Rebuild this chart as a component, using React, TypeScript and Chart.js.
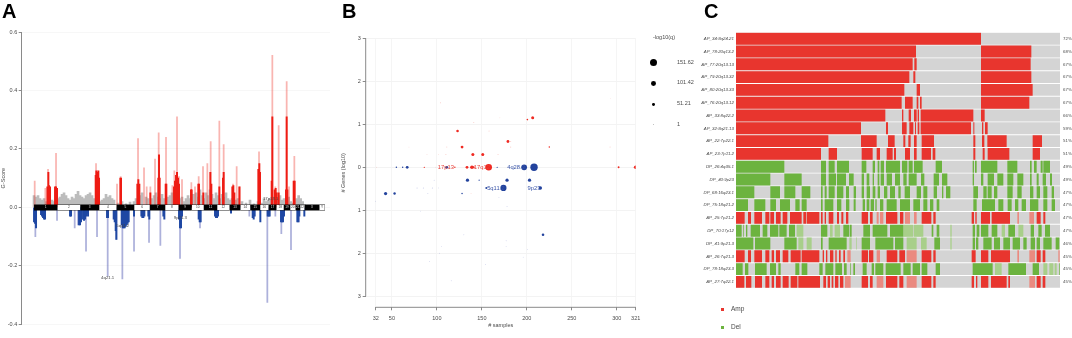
import React, { useEffect, useRef } from "react";
import { Chart, registerables } from "chart.js";

Chart.register(...registerables);

const FONT = "'Liberation Sans', Arial, sans-serif";
const TXT = "#4a4a4a";

/* ---------- Panel A: G-score along the genome (x = genome bin) ---------- */
const chromosomes: [string, number, number][] = [
  ["1", 102, 172], ["2", 172, 241], ["3", 241, 297], ["4", 297, 350], ["5", 350, 402], ["6", 402, 450],
  ["7", 450, 495], ["8", 495, 536], ["9", 536, 575], ["10", 575, 612], ["11", 612, 651], ["12", 651, 689],
  ["13", 689, 721], ["14", 721, 751], ["15", 751, 780], ["16", 780, 806], ["17", 806, 829], ["18", 829, 852],
  ["19", 852, 870], ["20", 870, 887], ["21", 887, 900], ["22", 900, 914], ["X", 914, 958], ["Y", 958, 975],
];
const gTicks = [-0.4, -0.2, 0, 0.2, 0.4, 0.6];
const ampThin: [number, number][] = [
  [104, .09], [136, .065], [144, .13], [168, .185], [288, .15], [351, .08], [362, .105], [414, .235], [432, .135],
  [440, .07], [451, .07], [465, .165], [476, .255], [498, .24], [517, .075], [523, .125], [531, .31], [537, .105],
  [546, .095], [574, .085], [585, .07], [596, .105], [609, .14], [622, .15], [632, .225], [658, .295], [671, .215],
  [699, .08], [710, .14], [720, .07], [777, .19], [817, .52], [826, .07], [836, .28], [860, .43], [867, .07], [883, .175],
];
const ampCore: [number, number][] = [
  [142, .07], [145, .12], [147, .075], [150, .07], [165, .07], [168, .07], [171, .065],
  [287, .11], [289, .125], [291, .12], [293, .115], [295, .125], [297, .1], [361, .1], [363, .1],
  [412, .08], [415, .095], [418, .08], [451, .05], [475, .1], [477, .18], [479, .1], [497, .08], [499, .08],
  [522, .07], [525, .09], [528, .11], [531, .12], [534, .1], [537, .08], [573, .06], [575, .06], [595, .08], [597, .08],
  [610, .05], [631, .12], [634, .08], [658, .07], [669, .1], [671, .12], [697, .07], [700, .075], [703, .05], [718, .07],
  [775, .13], [778, .15], [780, .12], [815, .09], [817, .31], [824, .06], [827, .065], [830, .05], [836, .05],
  [858, .06], [860, .31], [862, .06], [881, .09], [884, .09],
];
const delThin: [number, number][] = [
  [106, -.1], [171, -.045], [224, -.07], [234, -.06], [258, -.15], [291, -.1], [323, -.235], [349, -.11], [367, -.245],
  [402, -.15], [447, -.12], [481, -.13], [540, -.175], [600, -.07], [748, -.03], [802, -.325], [826, -.03], [844, -.09],
  [873, -.145], [897, -.05],
];
const delCore: [number, number][] = [
  [102, -.05], [105, -.055], [108, -.07], [123, -.025], [126, -.03], [129, -.035], [132, -.04], [135, -.04],
  [210, -.03], [213, -.03], [237, -.06], [240, -.06], [243, -.05], [249, -.04], [252, -.045], [255, -.04], [258, -.03],
  [261, -.02], [264, -.03], [321, -.035], [324, -.035], [341, -.04], [344, -.05], [347, -.08], [349, -.11],
  [365, -.06], [368, -.07], [371, -.07], [374, -.07], [377, -.065], [380, -.06], [383, -.055], [386, -.05], [402, -.03],
  [424, -.03], [427, -.035], [430, -.035], [433, -.03], [445, -.03], [448, -.04], [490, -.03], [493, -.04],
  [537, -.04], [540, -.07], [543, -.07], [546, -.03], [596, -.04], [599, -.05], [602, -.05],
  [645, -.03], [648, -.035], [651, -.035], [654, -.03], [693, -.02], [758, -.035], [761, -.04], [764, -.03], [781, -.05],
  [803, -.03], [806, -.03], [809, -.03], [843, -.05], [846, -.05], [849, -.05], [852, -.03], [892, -.05], [895, -.05],
  [898, -.03], [913, -.03],
];
const noiseBins = [
  102, 108, 114, 120, 126, 132, 138, 150, 156, 162, 174, 180, 186, 192, 198, 204, 210, 216, 222, 228, 234, 240, 246, 252,
  258, 264, 270, 276, 282, 300, 306, 312, 318, 324, 330, 336, 342, 354, 366, 378, 390, 402, 408, 420, 426, 438, 444,
  456, 462, 468, 474, 480, 486, 492, 504, 510, 516, 528, 540, 546, 552, 558, 564, 570, 580, 588, 594, 600, 606, 612, 618,
  624, 630, 636, 642, 648, 654, 660, 666, 672, 678, 684, 690, 696, 708, 714, 726, 738, 750, 762, 774, 786, 792, 798, 804,
  810, 820, 832, 840, 846, 852, 866, 872, 878, 890, 896, 902, 908, 914,
];
const noiseScores = [
  .04, .035, .04, .03, .025, .03, .02, .02, .025, .02, .03, .035, .045, .05, .04, .03, .025, .035, .03, .045, .055, .04, .035, .03,
  .04, .045, .05, .04, .03, .02, .025, .03, .045, .035, .04, .03, .025, .015, .02, .012, .018, .02, .03, .04, .05, .035, .03,
  .03, .04, .05, .035, .03, .045, .03, .035, .04, .05, .04, .03, .035, .02, .03, .04, .03, .045, .05, .035, .06, .04, .03, .05,
  .04, .06, .045, .03, .05, .04, .03, .045, .035, .05, .03, .025, .03, .025, .03, .02, .015, .025, .012, .02, .015, .03, .02, .025,
  .03, .035, .03, .04, .025, .03, .035, .02, .015, .03, .04, .03, .02, .01,
];
const gLabels: [string, number, number][] = [["4q21.1", 323, -.24], ["5q11.2", 368, -.062], ["9p21.3", 541, -.035], ["17p13.1", 812, .03]];

/* ---------- Panel B: recurrent regions, [samples, signed log10 genes, -log10 q] ---------- */
const sampleTicks = [32, 50, 100, 150, 200, 250, 300, 321];
const geneTicks = [-3, -2, -1, 0, 1, 2, 3];
const ampStrong: [number, number, number][] = [
  [123, .845, 45], [128, .47, 50], [140, .3, 55], [151, .3, 55], [179, .6, 50], [206.5, 1.15, 55], [200.6, 1.11, 22],
  [225, .47, 20], [133.5, 0, 50], [139, 0, 70], [141, 0, 30], [157.6, 0, 140], [302, 0, 28], [321, 0, 70], [86, 0, 14], [120, 0, 18],
];
const ampPale: [number, number, number][] = [
  [104, 1.5, 10], [182, .6, 10], [182, .47, 10], [292.5, .47, 8], [141, 1.04, 8], [158, .845, 8], [170, 1.15, 2], [111, .47, 8],
  [89, .3, 6], [102, .3, 6], [110, .3, 8], [168, .3, 8], [69, .47, 3], [33, 0, 5], [99, 0, 6], [138, -.61, 5], [293, 1.6, 1],
];
const delStrong: [number, number, number][] = [
  [55, 0, 18], [62, 0, 18], [67, 0, 50], [111, 0, 50], [197, 0, 120], [208, 0, 160], [134, -.3, 60], [178, -.3, 60], [203, -.3, 60],
  [43, -.61, 60], [53, -.61, 40], [128, -.61, 18], [155, -.48, 32], [174, -.48, 130], [215, -.48, 65], [218, -1.57, 45],
  [147, -.3, 14], [167, 0, 12],
];
const delPale: [number, number, number][] = [
  [78, -.48, 8], [85, -.48, 8], [95, -.48, 8], [90, -.61, 6], [97, -.3, 5], [102, -.48, 3], [169, -.7, 5], [178, -.91, 6], [32, -.79, 3],
  [130, -1.57, 4], [177, -1.71, 6], [177, -1.84, 4], [200.6, -1.91, 4], [196, -2.09, 3], [154, -2.26, 5], [116, -2.64, 5],
  [92, -2.19, 3], [103, -2, 4], [105, -1.84, 3], [82, -1.02, 2],
];
const bubbleLabels: [string, number, number, string][] = [
  ["17p13", 110, 0, "#e8413a"], ["17q12", 150, 0, "#e8413a"], ["4q28.3", 188, 0, "#3a55a8"],
  ["5q11.2", 165.5, -.48, "#3a55a8"], ["9p23", 208, -.48, "#3a55a8"],
];
const qLegend: [string, number][] = [["151.62", 151.62], ["101.42", 101.42], ["51.21", 51.21], ["1", 1]];

/* ---------- Panel C: oncoprint (x = ordered sample position) ---------- */
const rowNames = [
  "AP_34:8q24.21", "AP_78:20q13.2", "AP_77:20q13.13", "AP_79:20q13.32", "AP_80:20q13.33", "AP_76:20q13.12", "AP_33:8q22.2",
  "AP_32:8q21.13", "AP_22:7p22.1", "AP_23:7p11.2", "DP_26:4q35.1", "DP_40:9p23", "DP_68:16q23.1", "DP_75:18q21.2", "AP_25:7p21.2",
  "DP_70:17p12", "DP_41:9p21.3", "AP_26:7q21.3", "DP_78:18q23.3", "AP_27:7q22.1",
];
const rowPct = ["72%", "68%", "67%", "67%", "67%", "67%", "66%", "59%", "51%", "51%", "49%", "49%", "47%", "47%", "47%", "47%", "46%", "45%", "45%", "45%"];
type Seg = [number, number];
const ampRows: Record<number, Seg[]> = {
  0: [[138, 873]],
  1: [[138, 678], [873, 1024]],
  2: [[138, 668], [673, 680], [873, 1022]],
  3: [[138, 658], [670, 676], [873, 1024]],
  4: [[138, 643], [680, 690], [873, 1028]],
  5: [[138, 635], [645, 668], [680, 685], [690, 695], [873, 1018]],
  6: [[138, 586], [636, 640], [656, 663], [672, 680], [683, 687], [692, 850], [873, 884]],
  7: [[138, 513], [588, 594], [636, 650], [658, 670], [675, 678], [683, 688], [692, 843], [850, 853], [876, 880], [885, 893]],
  8: [[138, 415], [513, 560], [594, 614], [640, 646], [655, 662], [672, 680], [695, 732], [850, 856], [876, 883], [892, 950], [1028, 1056]],
  9: [[138, 393], [416, 441], [515, 548], [560, 570], [590, 608], [612, 618], [645, 660], [672, 680], [695, 723], [728, 736], [850, 856], [878, 884], [893, 958], [1028, 1050]],
  14: [[138, 164], [174, 183], [193, 216], [226, 238], [241, 252], [258, 272], [278, 292], [300, 335], [340, 348], [350, 388], [393, 398], [404, 408], [416, 430], [441, 447], [454, 460], [468, 475], [515, 534], [540, 548], [588, 622], [630, 640], [695, 724], [730, 737], [845, 852], [856, 860], [873, 900], [905, 960], [1040, 1052], [1060, 1066]],
  17: [[138, 164], [174, 183], [193, 216], [226, 238], [245, 252], [258, 270], [278, 295], [302, 332], [335, 388], [398, 402], [408, 412], [420, 430], [436, 440], [447, 452], [460, 465], [515, 534], [537, 550], [590, 622], [628, 645], [695, 724], [730, 737], [845, 857], [873, 895], [903, 960], [1040, 1052], [1058, 1066]],
  19: [[138, 163], [168, 184], [195, 216], [226, 238], [245, 252], [258, 272], [278, 296], [302, 322], [325, 390], [400, 408], [413, 420], [425, 430], [435, 445], [450, 460], [515, 534], [540, 548], [588, 622], [628, 640], [695, 724], [730, 737], [845, 852], [858, 862], [873, 895], [903, 950], [955, 960], [1040, 1052], [1058, 1066]],
};
const ampPaleRows: Record<number, Seg[]> = {
  14: [[560, 566], [570, 580], [645, 660], [672, 680], [982, 987], [1018, 1032]],
  17: [[472, 482], [560, 570], [650, 680], [982, 987], [1018, 1035], [1105, 1109]],
  19: [[465, 482], [560, 580], [650, 680], [1018, 1035]],
};
const delRows: Record<number, Seg[]> = {
  10: [[138, 283], [393, 408], [416, 434], [441, 477], [515, 529], [548, 555], [563, 568], [572, 582], [588, 630], [636, 652], [656, 668], [672, 698], [737, 756], [848, 852], [855, 860], [873, 922], [952, 982], [1020, 1025], [1032, 1040], [1052, 1058], [1060, 1080]],
  11: [[138, 241], [283, 335], [393, 408], [416, 438], [441, 468], [477, 491], [515, 522], [530, 538], [548, 552], [563, 568], [572, 582], [590, 606], [615, 630], [640, 650], [656, 680], [693, 703], [731, 747], [756, 772], [848, 852], [873, 880], [893, 912], [922, 940], [952, 970], [982, 1000], [1020, 1025], [1040, 1046], [1058, 1068], [1080, 1086]],
  12: [[138, 193], [241, 270], [283, 316], [335, 361], [393, 398], [404, 410], [416, 434], [441, 460], [468, 477], [491, 498], [515, 522], [530, 540], [548, 556], [563, 570], [582, 592], [600, 615], [625, 632], [644, 660], [680, 693], [700, 712], [731, 741], [756, 760], [768, 781], [850, 864], [880, 890], [893, 905], [912, 922], [952, 968], [982, 995], [1020, 1030], [1040, 1050], [1060, 1072], [1085, 1092]],
  13: [[138, 174], [193, 226], [241, 258], [270, 300], [316, 329], [335, 350], [393, 398], [404, 430], [441, 454], [468, 478], [491, 497], [518, 525], [530, 538], [542, 552], [556, 560], [570, 580], [590, 620], [630, 660], [670, 690], [700, 712], [720, 730], [740, 748], [850, 860], [876, 915], [925, 940], [953, 965], [975, 985], [995, 1008], [1020, 1045], [1060, 1072], [1085, 1095]],
  15: [[138, 155], [160, 162], [168, 172], [182, 210], [218, 232], [240, 265], [268, 290], [297, 315], [393, 412], [460, 478], [480, 485], [520, 540], [548, 592], [600, 640], [725, 730], [740, 748], [848, 855], [860, 868], [873, 895], [905, 922], [955, 975], [1022, 1032], [1045, 1055], [1065, 1080]],
  16: [[138, 190], [195, 241], [283, 320], [393, 398], [416, 470], [515, 540], [556, 610], [615, 640], [733, 750], [848, 855], [858, 865], [880, 905], [912, 930], [940, 960], [968, 990], [1000, 1010], [1022, 1035], [1040, 1050], [1060, 1085], [1097, 1108]],
  18: [[138, 158], [165, 175], [195, 230], [240, 258], [265, 272], [316, 328], [335, 352], [388, 398], [406, 430], [436, 456], [462, 470], [480, 482], [490, 495], [518, 530], [545, 552], [556, 580], [587, 632], [640, 662], [668, 690], [695, 712], [737, 750], [848, 908], [955, 1008], [1028, 1047], [1108, 1110]],
};
const delPaleRows: Record<number, Seg[]> = {
  15: [[320, 340], [420, 428], [434, 450], [640, 670], [672, 700], [781, 785], [935, 945], [985, 1000]],
  16: [[325, 340], [350, 365], [478, 485], [498, 500], [650, 680], [693, 710], [781, 785]],
  18: [[915, 935], [1060, 1072], [1078, 1090], [1094, 1100]],
};
const legendKinds: [string, string][] = [["Amp", "#e8352e"], ["Del", "#6cb33f"]];

/* ---------- helpers ---------- */
const segs = (rows: Record<number, Seg[]>) =>
  Object.entries(rows).flatMap(([r, list]) => list.map((s) => ({ x: s, y: rowNames[Number(r)] })));
const pts = (a: [number, number][]) => a.map(([x, y]) => ({ x, y }));
const bubble = (a: [number, number, number][]) => a.map(([x, y, q]) => ({ x, y, r: 0.35 + q * 0.021 }));
const fitW = (w: number) => (s: any) => { s.width = w; };
const fitH = (h: number) => (s: any) => { s.height = h; };
const tickFont = (size: number, style = "normal") => ({ family: FONT, size, style: style as any });

export default function App() {
  const a = useRef<HTMLCanvasElement>(null);
  const b = useRef<HTMLCanvasElement>(null);
  const c = useRef<HTMLCanvasElement>(null);

  useEffect(() => {
    const spike = (data: [number, number][], color: string, w: number, order: number) => ({
      type: "bar" as const, data: pts(data), backgroundColor: color, barThickness: w, grouped: false, order,
    });
    const chromo = chromosomes.flatMap(([, s, e], i) => {
      const line = (color: string, width: number, order: number, inset: number) => ({
        type: "line" as const, data: [{ x: s + inset, y: 0 }, { x: e - inset, y: 0 }], borderColor: color,
        borderWidth: width, pointRadius: 0, borderCapStyle: "butt" as const, order,
      });
      return i % 2 === 0 ? [line("#000", 6, 2, 0)] : [line("#222", 6, 2, 0), line("#fff", 5, 1, 1)];
    });
    const chartA = new Chart(a.current!, {
      type: "bar",
      data: {
        datasets: [
          spike(noiseBins.map((x, i) => [x, noiseScores[i]]) as [number, number][], "#bcbcbc", 2, 9),
          spike(ampThin, "rgba(238,60,50,.38)", 1.1, 7),
          spike(delThin, "rgba(60,70,170,.42)", 1.1, 7),
          spike(ampCore, "#ee1c14", 1.3, 5),
          spike(delCore, "#1f48a3", 1.3, 5),
          ...chromo,
        ] as any,
      },
      options: {
        animation: false, responsive: false, devicePixelRatio: 1,
        layout: { padding: { top: 32, bottom: 13.7, right: 10, left: 0 } },
        plugins: { legend: { display: false }, tooltip: { enabled: false } },
        scales: {
          x: { type: "linear", min: 65, max: 990, display: false, offset: false },
          y: {
            min: -0.4, max: 0.6, afterFit: fitW(21.7),
            afterBuildTicks: (s: any) => { s.ticks = gTicks.map((value) => ({ value })); },
            ticks: { font: tickFont(5.5), color: TXT, padding: 1.5, callback: (v: any) => Number(v).toFixed(1) },
            grid: { color: "#f7f7f7", tickColor: "#8a8a8a", tickLength: 3 },
            border: { color: "#8a8a8a" },
            title: { display: true, text: "G-Score", font: tickFont(5.5), color: TXT, padding: { top: 0, bottom: 1 } },
          },
        },
      },
      plugins: [{
        id: "bandText",
        afterDatasetsDraw(ch: any) {
          const { ctx, scales } = ch;
          ctx.save();
          ctx.textAlign = "center"; ctx.textBaseline = "middle";
          ctx.font = `3.2px ${FONT}`;
          chromosomes.forEach(([n, s, e], i) => {
            ctx.fillStyle = i % 2 === 0 ? "#ddd" : "#333";
            ctx.fillText(n, scales.x.getPixelForValue((s + e) / 2), scales.y.getPixelForValue(0));
          });
          ctx.font = `4.3px ${FONT}`; ctx.fillStyle = "#444";
          gLabels.forEach(([t, x, y]) => ctx.fillText(t, scales.x.getPixelForValue(x), scales.y.getPixelForValue(y)));
          ctx.restore();
        },
      }],
    } as any);

    const bub = (data: [number, number, number][], color: string) => ({
      data: bubble(data), backgroundColor: color, borderWidth: 0,
    });
    const chartB = new Chart(b.current!, {
      type: "bubble",
      data: {
        datasets: [
          bub(ampPale, "rgba(240,120,110,.38)"), bub(delPale, "rgba(90,100,190,.38)"),
          bub(ampStrong, "#ef2a22"), bub(delStrong, "#23439d"),
        ],
      },
      options: {
        animation: false, responsive: false, devicePixelRatio: 1,
        layout: { padding: { top: 38.3, right: 54.3, bottom: 0, left: 0 } },
        plugins: { legend: { display: false }, tooltip: { enabled: false } },
        scales: {
          x: {
            type: "linear", min: 20.9, max: 321, afterFit: fitH(30.7),
            afterBuildTicks: (s: any) => { s.ticks = sampleTicks.map((value) => ({ value })); },
            ticks: { font: tickFont(5.5), color: TXT, autoSkip: false, maxRotation: 0, padding: 5 },
            grid: { color: "#f5f5f5", tickColor: "#8a8a8a", tickLength: 3 },
            border: { display: false },
            title: { display: true, text: "# samples", font: tickFont(5.5), color: TXT, padding: { top: 0, bottom: 9 } },
          },
          y: {
            min: -3.256, max: 3, afterFit: fitW(25.7),
            afterBuildTicks: (s: any) => { s.ticks = geneTicks.map((value) => ({ value })); },
            ticks: { font: tickFont(5.5), color: TXT, padding: 2, callback: (v: any) => String(Math.abs(v)) },
            grid: { color: "#f3f3f3", tickColor: "#8a8a8a", tickLength: 3 },
            border: { display: false },
            title: { display: true, text: "# Genes (log10)", font: tickFont(5.5), color: TXT, padding: { top: 0, bottom: 1 } },
          },
        },
      },
      plugins: [{
        id: "rAxes",
        afterDatasetsDraw(ch: any) {
          const { ctx, scales, chartArea } = ch;
          ctx.save();
          ctx.strokeStyle = "#8a8a8a"; ctx.lineWidth = 1;
          ctx.beginPath();
          ctx.moveTo(chartArea.left, scales.y.getPixelForValue(3));
          ctx.lineTo(chartArea.left, scales.y.getPixelForValue(-3));
          ctx.moveTo(scales.x.getPixelForValue(32), chartArea.bottom);
          ctx.lineTo(scales.x.getPixelForValue(321), chartArea.bottom);
          ctx.stroke();
          ctx.textAlign = "center"; ctx.textBaseline = "middle"; ctx.font = `5.8px ${FONT}`;
          bubbleLabels.forEach(([t, x, y, col]) => {
            ctx.fillStyle = col;
            ctx.fillText(t, scales.x.getPixelForValue(x), scales.y.getPixelForValue(y));
          });
          ctx.restore();
        },
      }],
    } as any);

    const band = (data: any[], color: string) => ({
      data, backgroundColor: color, grouped: false, categoryPercentage: 1, barPercentage: 0.93, borderWidth: 0,
    });
    const chartC = new Chart(c.current!, {
      type: "bar",
      data: {
        labels: rowNames,
        datasets: [
          band(segs(ampRows), "#e8352e"),
          band(segs(delRows), "#6cb33f"),
          band(segs(ampPaleRows), "#ea8a80"),
          band(segs(delPaleRows), "#a8cf8a"),
          band(rowNames.map((y) => ({ x: [138, 1110], y })), "#d4d4d4"),
        ] as any,
      },
      options: {
        indexAxis: "y", animation: false, responsive: false, devicePixelRatio: 1,
        layout: { padding: { top: 32.3, bottom: 49.7, left: 0, right: 0 } },
        plugins: { legend: { display: false }, tooltip: { enabled: false } },
        scales: {
          x: { type: "linear", min: 138, max: 1110, display: false },
          y: {
            type: "category", afterFit: fitW(46),
            ticks: { font: tickFont(4.4, "italic"), color: TXT, autoSkip: false, padding: 2 },
            grid: { display: false, drawTicks: false }, border: { display: false },
          },
          y2: {
            type: "category", position: "right", labels: rowPct, afterFit: fitW(12),
            ticks: { font: tickFont(4.4), color: TXT, autoSkip: false, padding: 3 },
            grid: { display: false, drawTicks: false }, border: { display: false },
          },
        },
      },
    } as any);

    return () => { chartA.destroy(); chartB.destroy(); chartC.destroy(); };
  }, []);

  const abs = (s: React.CSSProperties): React.CSSProperties => ({ position: "absolute", fontFamily: FONT, color: TXT, lineHeight: 1, whiteSpace: "nowrap", ...s });
  const letter: React.CSSProperties = { fontSize: 20, fontWeight: 700, color: "#000", top: 1 };
  const soft = "blur(0.45px)";
  return (
    <div style={{ position: "fixed", left: 0, top: 0, width: 1072, height: 338, overflow: "hidden", background: "#fff" }}>
      <canvas ref={a} width={340} height={338} style={{ position: "absolute", left: 0, top: 0, filter: soft }} />
      <canvas ref={b} width={350} height={338} style={{ position: "absolute", left: 340, top: 0, filter: soft }} />
      <canvas ref={c} width={382} height={338} style={{ position: "absolute", left: 690, top: 0, filter: soft }} />
      <div style={abs({ ...letter, left: 2 })}>A</div>
      <div style={abs({ ...letter, left: 342 })}>B</div>
      <div style={abs({ ...letter, left: 704 })}>C</div>
      <div style={abs({ left: 653, top: 35, fontSize: 5.5 })}>-log10(q)</div>
      {qLegend.map(([t, q], i) => {
        const r = 0.35 + q * 0.021;
        const cy = [62.7, 83.3, 104.3, 124.7][i];
        return (
          <React.Fragment key={t}>
            <div style={{ position: "absolute", left: 653.5 - r, top: cy - r, width: 2 * r, height: 2 * r, borderRadius: "50%", background: i === 3 ? "#bbb" : "#000" }} />
            <div style={abs({ left: 677, top: cy - 3, fontSize: 5.5 })}>{t}</div>
          </React.Fragment>
        );
      })}
      {legendKinds.map(([t, col], i) => (
        <React.Fragment key={t}>
          <div style={{ position: "absolute", left: 720.5, top: 308 + i * 18, width: 3, height: 3, background: col }} />
          <div style={abs({ left: 731, top: 306 + i * 18, fontSize: 6.5 })}>{t}</div>
        </React.Fragment>
      ))}
    </div>
  );
}
